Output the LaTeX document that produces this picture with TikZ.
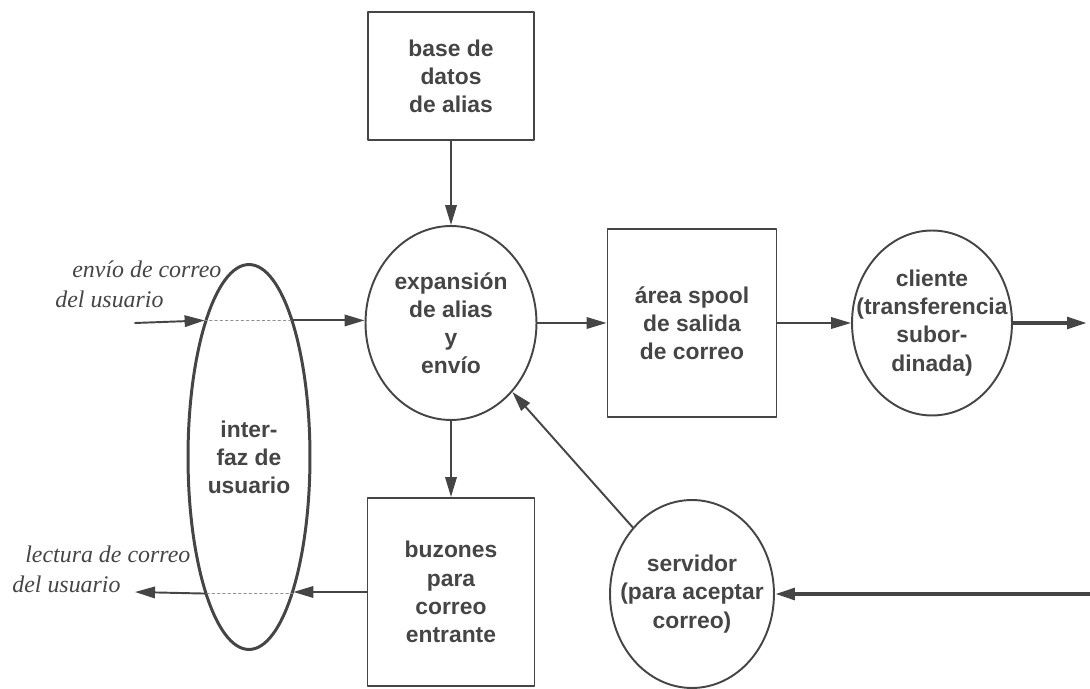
\documentclass[tikz,border=0pt]{standalone}
\usepackage{fontspec}
\setmainfont{Liberation Serif}
\setsansfont{Liberation Sans}
\usepackage{tikz}
\usetikzlibrary{arrows.meta,shapes.geometric}
\definecolor{ink}{gray}{0.27}

\begin{document}
\begin{tikzpicture}[x=0.02cm,y=-0.02cm,line cap=round,line join=round,>={Triangle[length=4mm,width=2.3mm]},
  texto/.style={text=ink,align=center,inner sep=0pt,font=\sffamily\bfseries\fontsize{13}{16}\selectfont},
  caja/.style={texto,draw=ink,line width=1.1pt,rectangle},
  proc/.style={draw=ink,line width=1.1pt,ellipse,inner sep=0pt},
  flecha/.style={->,draw=ink,fill=ink,line width=1.1pt},
  gruesa/.style={->,draw=ink,fill=ink,line width=2.3pt},
  puntos/.style={draw=ink!60,line width=1pt,dotted},
  etiq/.style={text=ink,align=left,inner sep=0pt,font=\itshape\fontsize{13.6}{17}\selectfont}]
\useasboundingbox (0,0) rectangle (1090,689);
\node[caja,minimum width=3.32cm,minimum height=2.56cm] (alias) at (451,76) {base de\\datos\\de alias};
\node[proc,minimum width=3.42cm,minimum height=3.88cm,label={[texto]center:expansión\\de alias\\y\\envío}] (expand) at (451,323) {};
\node[caja,minimum width=3.38cm,minimum height=3.76cm] (spool) at (692,323) {área spool\\de salida\\de correo};
\node[proc,minimum width=3.2cm,minimum height=3.7cm,label={[texto]center:cliente\\(transferencia\\subor-\\dinada)}] (client) at (932,323) {};
\node[proc,line width=1.7pt,minimum width=2.44cm,minimum height=7.7cm,label={[texto]center:inter-\\faz de\\usuario}] (ui) at (249,457) {};
\node[caja,minimum width=3.34cm,minimum height=3.76cm] (mbox) at (451,592) {buzones\\para\\correo\\entrante};
\node[proc,minimum width=3.28cm,minimum height=3.76cm,label={[texto]center:servidor\\(para aceptar\\correo)}] (server) at (692,594) {};
\node[etiq,anchor=north west] (lblenvio) at (55,261) {\hspace*{0.34cm}envío de correo\\del usuario};
\node[etiq,anchor=north west] (lbllectura) at (12,546) {\hspace*{0.26cm}lectura de correo\\del usuario};
\coordinate (envio) at (135,323);
\coordinate (lectura) at (135,592);
\coordinate (salida) at (1087,323);
\coordinate (llegada) at (1090,594);
\draw[flecha] (envio) -- (ui.108);
\draw[puntos] (ui.108) -- (ui.72);
\draw[flecha] (ui.72) -- (ui.72 -| expand.west);
\draw[flecha] (alias) -- (expand);
\draw[flecha] (expand) -- (mbox);
\draw[flecha] (expand) -- (spool);
\draw[flecha] (spool) -- (client);
\draw[gruesa] (client) -- (salida);
\draw[gruesa] (llegada) -- (server);
\draw[flecha] (server) -- (expand);
\draw[flecha] (mbox.west) -- (mbox.west -| ui.-72);
\draw[puntos] (ui.-72) -- (ui.-108);
\draw[flecha] (ui.-108) -- (lectura);
\end{tikzpicture}
\end{document}
